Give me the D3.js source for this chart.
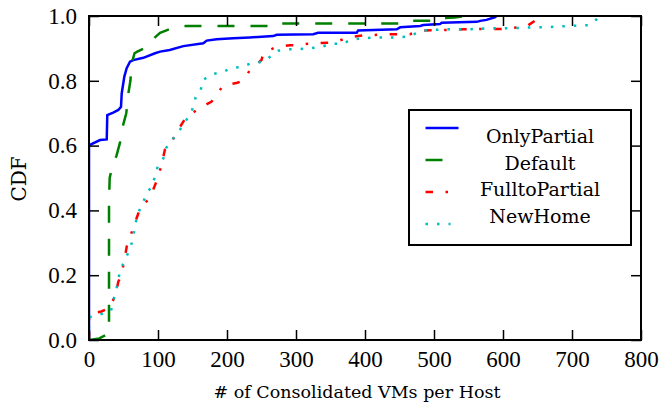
<!DOCTYPE html>
<html>
<head>
<meta charset="utf-8">
<script src="https://cdn.jsdelivr.net/npm/d3@7"></script>
<style>
  body { margin: 0; background: #fff; }
  svg { display: block; }
</style>
</head>
<body>
<div id="chart"></div>
<script>
// series: [VMs per host, CDF]
const onlyPartial = [[0,0],[0,0.6],[1.4,0.602],[16,0.617],[25.7,0.619],[26.5,0.694],[35,0.702],[42.5,0.71],[46.4,0.72],[47.4,0.761],[51.2,0.813],[54.6,0.839],[59.4,0.859],[64.2,0.864],[78.7,0.871],[95.7,0.885],[103,0.89],[117,0.895],[136.7,0.907],[165.7,0.916],[170.6,0.924],[185,0.928],[209,0.931],[233,0.934],[267,0.938],[272,0.942],[325,0.944],[332,0.948],[388,0.948],[390,0.955],[446,0.959],[451,0.965],[480,0.969],[484.5,0.972],[508.7,0.975],[511,0.979],[562,0.982],[567,0.985],[576,0.988],[588,0.996],[591,1.0]];
const defaultSeries = [[0,0],[15,0.005],[24,0.015],[29,0.02],[29,0.43],[30,0.5],[33,0.53],[40,0.57],[45,0.61],[49,0.66],[54,0.70],[57,0.76],[60,0.80],[62,0.855],[66,0.885],[70,0.89],[80,0.90],[88,0.917],[96,0.935],[103,0.948],[115,0.958],[122,0.963],[140,0.969],[265,0.969],[268,0.977],[458,0.977],[462,0.985],[500,0.985],[503,0.993],[530,0.995],[545,1.0]];
const fullToPartial = [[0,0],[0,0.08],[18,0.088],[28,0.097],[37.7,0.134],[42.5,0.18],[46.4,0.198],[51,0.242],[54.6,0.288],[58,0.309],[71.5,0.391],[76.4,0.411],[88.4,0.44],[95.7,0.478],[99.6,0.499],[105,0.54],[110,0.587],[117,0.597],[124.6,0.633],[136.7,0.674],[141.5,0.689],[160,0.715],[177.8,0.736],[182.6,0.749],[193.8,0.784],[215,0.794],[222.8,0.8],[234,0.835],[250,0.864],[252.6,0.885],[269.6,0.903],[291,0.91],[301,0.91],[324,0.916],[349,0.918],[359,0.921],[376,0.934],[400,0.941],[410,0.941],[431,0.944],[465,0.944],[484.5,0.955],[518,0.957],[542.5,0.959],[567,0.96],[598,0.96],[622,0.965],[632,0.965],[648,0.988],[655,1.0]];
const newHome = [[0,0],[0,0.07],[2.9,0.072],[17.4,0.08],[31.9,0.09],[35,0.121],[39,0.149],[45,0.214],[51,0.242],[57,0.27],[62,0.3],[65,0.331],[67.6,0.362],[71.5,0.393],[77.8,0.422],[83.6,0.451],[90.8,0.475],[95.7,0.504],[99.5,0.535],[107.7,0.56],[111.6,0.592],[120,0.617],[129.4,0.64],[136.7,0.666],[145,0.691],[151,0.718],[154.6,0.749],[162,0.772],[164.8,0.802],[177.8,0.82],[192,0.826],[206.8,0.839],[222.8,0.844],[237,0.856],[252.6,0.859],[263,0.875],[274.4,0.893],[289,0.897],[304.8,0.898],[320,0.9],[337,0.905],[351.7,0.914],[367.5,0.914],[379,0.926],[393.8,0.931],[409.7,0.933],[426.5,0.934],[442,0.934],[458,0.936],[471,0.944],[483.6,0.955],[500,0.957],[516,0.959],[548,0.959],[564,0.96],[580,0.962],[612.6,0.962],[628.5,0.964],[645,0.965],[661,0.965],[676.8,0.967],[693,0.969],[709,0.97],[725,0.972],[735.8,0.99],[740,1.0]];

const seriesNames = ["OnlyPartial", "Default", "FulltoPartial", "NewHome"];
const xTicks = [0, 100, 200, 300, 400, 500, 600, 700, 800];
const yTicks = [0.0, 0.2, 0.4, 0.6, 0.8, 1.0];

const series = [
  {name: seriesNames[0], values: onlyPartial,   color: "#0000ff", dash: null},
  {name: seriesNames[1], values: defaultSeries, color: "#008000", dash: "17,16"},
  {name: seriesNames[2], values: fullToPartial, color: "#ff0000", dash: "7.5,12.5,2.5,12.5"},
  {name: seriesNames[3], values: newHome,       color: "#00bfbf", dash: "2.5,9"}
];

const W = 660, H = 404;
const margin = {top: 16, right: 19, bottom: 64, left: 89};
const width = W - margin.left - margin.right,
      height = H - margin.top - margin.bottom;

const svg = d3.select("#chart").append("svg")
  .attr("width", W).attr("height", H);

const g = svg.append("g")
  .attr("transform", `translate(${margin.left},${margin.top})`);

const x = d3.scaleLinear().domain([0, 800]).range([0, width]);
const y = d3.scaleLinear().domain([0, 1]).range([height, 0]);

g.append("clipPath").attr("id", "clip")
  .append("rect").attr("width", width).attr("height", height);

const line = d3.line().x(d => x(d[0])).y(d => y(d[1]));

g.append("g").attr("clip-path", "url(#clip)")
  .selectAll("path.series")
  .data(series)
  .enter()
  .append("path")
  .attr("class", "series")
  .attr("d", d => line(d.values))
  .attr("fill", "none")
  .attr("stroke", d => d.color)
  .attr("stroke-width", 2.5)
  .attr("stroke-dasharray", d => d.dash);

// axes with inward ticks on all four sides
const tickFont = "'Liberation Serif', serif";
function styleAxis(sel) {
  sel.select(".domain").remove();
  sel.selectAll(".tick line").attr("stroke", "#000").attr("stroke-width", 1.5);
  sel.selectAll(".tick text").attr("fill", "#000")
     .style("font-family", tickFont).style("font-size", "23px");
}

g.append("g").attr("transform", `translate(0,${height})`)
  .call(d3.axisBottom(x).tickValues(xTicks).tickSize(-10).tickSizeOuter(0).tickPadding(11).tickFormat(d3.format("d")))
  .call(styleAxis);
g.append("g")
  .call(d3.axisTop(x).tickValues(xTicks).tickSize(-10).tickSizeOuter(0).tickFormat(""))
  .call(styleAxis);
g.append("g")
  .call(d3.axisLeft(y).tickValues(yTicks).tickSize(-10).tickSizeOuter(0).tickPadding(12).tickFormat(d3.format(".1f")))
  .call(styleAxis);
g.append("g").attr("transform", `translate(${width},0)`)
  .call(d3.axisRight(y).tickValues(yTicks).tickSize(-10).tickSizeOuter(0).tickFormat(""))
  .call(styleAxis);

g.append("rect")
  .attr("width", width).attr("height", height)
  .attr("fill", "none").attr("stroke", "#000").attr("stroke-width", 2);

// axis titles
const labelFont = "'DejaVu Serif', serif";
svg.append("text")
  .attr("x", margin.left + width / 2 - 8).attr("y", 398)
  .attr("text-anchor", "middle")
  .style("font-family", labelFont).style("font-size", "17.5px")
  .text("# of Consolidated VMs per Host");
svg.append("text")
  .attr("transform", `translate(26,179) rotate(-90)`)
  .attr("text-anchor", "middle")
  .style("font-family", labelFont).style("font-size", "20px")
  .text("CDF");

// legend
const legend = svg.append("g");
legend.append("rect")
  .attr("x", 409).attr("y", 110).attr("width", 222).attr("height", 135)
  .attr("fill", "#fff").attr("stroke", "#000").attr("stroke-width", 2);

const sampleLen = [33, 17, 24, 25];
legend.selectAll("line.sample")
  .data(series)
  .enter()
  .append("line")
  .attr("class", "sample")
  .attr("x1", 425.5)
  .attr("x2", (d, i) => 425.5 + sampleLen[i])
  .attr("y1", (d, i) => 128 + i * 32)
  .attr("y2", (d, i) => 128 + i * 32)
  .attr("stroke", d => d.color)
  .attr("stroke-width", 2.5)
  .attr("stroke-dasharray", d => d.dash);

legend.selectAll("text.label")
  .data(series)
  .enter()
  .append("text")
  .attr("class", "label")
  .attr("x", 540)
  .attr("y", (d, i) => 143 + i * 26.7)
  .attr("text-anchor", "middle")
  .style("font-family", labelFont).style("font-size", "19px")
  .text(d => d.name);
</script>
</body>
</html>
